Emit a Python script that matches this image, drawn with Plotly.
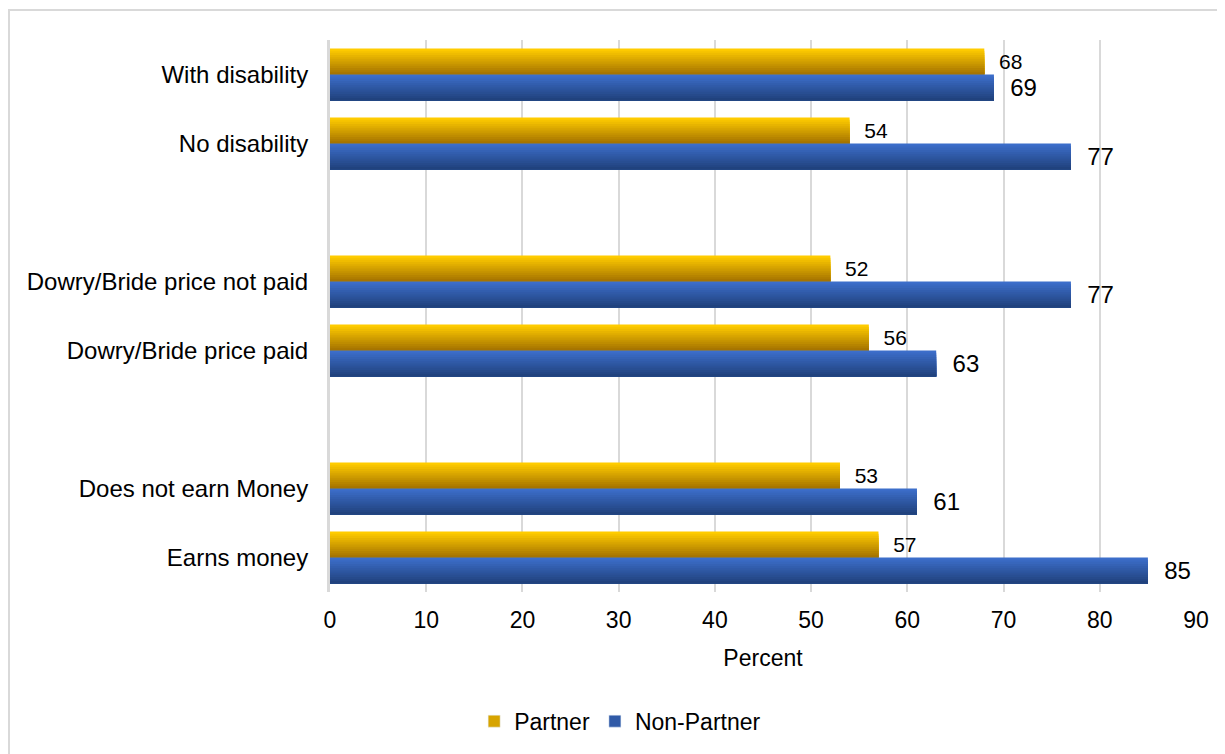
import plotly.graph_objects as go

# ---- data ----
categories = ["With disability", "No disability", " ",
              "Dowry/Bride price not paid", "Dowry/Bride price paid", "  ",
              "Does not earn Money", "Earns money"]
partner = [68, 54, None, 52, 56, None, 53, 57]
non_partner = [69, 77, None, 77, 63, None, 61, 85]
x_ticks = [0, 10, 20, 30, 40, 50, 60, 70, 80, 90]

FONT = "Liberation Sans, Arial, sans-serif"
HALF = 0.377
N = 12


def lerp(c1, c2, t):
    return "rgb(%d,%d,%d)" % tuple(round(a + (b - a) * t) for a, b in zip(c1, c2))


fig = go.Figure()

series = [
    ("Partner", partner, (255, 204, 0), (166, 116, 0), -HALF, 21),
    ("Non-Partner", non_partner, (60, 110, 202), (33, 66, 125), 0.0, 24),
]

for name, vals, ctop, cbot, base_off, fs in series:
    w = HALF / N
    for k in range(N):
        fig.add_trace(go.Bar(
            y=categories, x=vals, orientation="h",
            width=HALF - k * w, offset=base_off + k * w,
            marker=dict(color=lerp(ctop, cbot, k / (N - 1)), line=dict(width=0)),
            showlegend=False, hoverinfo="skip", legendgroup=name,
        ))
    # value labels
    fig.add_trace(go.Bar(
        y=categories, x=vals, orientation="h", name=name,
        width=HALF, offset=base_off,
        marker=dict(color="rgba(0,0,0,0)", line=dict(width=0)),
        text=[("  %d" % v) if v is not None else "" for v in vals],
        textposition="outside", constraintext="none", cliponaxis=False,
        textfont=dict(family=FONT, size=fs, color="#000000"),
        legendgroup=name, showlegend=False,
    ))
    # legend entry
    fig.add_trace(go.Bar(
        y=[None], x=[None], orientation="h", name=name,
        marker=dict(color=lerp(ctop, cbot, 0.45)), legendgroup=name,
    ))

W, H = 1217, 746
L, R, T, B = 322, 29, 32, 162
PW, PH = W - L - R, H - T - B

fig.update_layout(
    width=W, height=H,
    barmode="overlay",
    paper_bgcolor="white", plot_bgcolor="white",
    margin=dict(l=L, r=R, t=T, b=B),
    font=dict(family=FONT, color="#000000"),
    showlegend=True,
    legend=dict(orientation="h", xref="container", yref="container",
                x=0.503, xanchor="center", y=0.044, yanchor="middle",
                font=dict(family=FONT, size=23), itemwidth=30,
                traceorder="normal"),
    xaxis=dict(range=[0, 90], tickvals=x_ticks, showgrid=True,
               gridcolor="#d9d9d9", gridwidth=2, zeroline=False,
               showline=False, ticks="", tickfont=dict(size=23),
               ticklabelstandoff=12,
               title=dict(text="Percent", font=dict(size=23), standoff=17)),
    yaxis=dict(type="category", categoryorder="array", categoryarray=categories,
               autorange="reversed", showline=True, linecolor="#d9d9d9",
               linewidth=3, ticks="", tickfont=dict(size=24),
               ticklabelstandoff=14, showgrid=False),
    shapes=[dict(type="rect", xref="paper", yref="paper",
                 x0=(1 - L) / PW, x1=1.1, y0=-0.35, y1=1 + (T - 2) / PH,
                 line=dict(color="#d9d9d9", width=2), fillcolor="rgba(0,0,0,0)",
                 layer="below")],
)

fig.write_html("out.html")
